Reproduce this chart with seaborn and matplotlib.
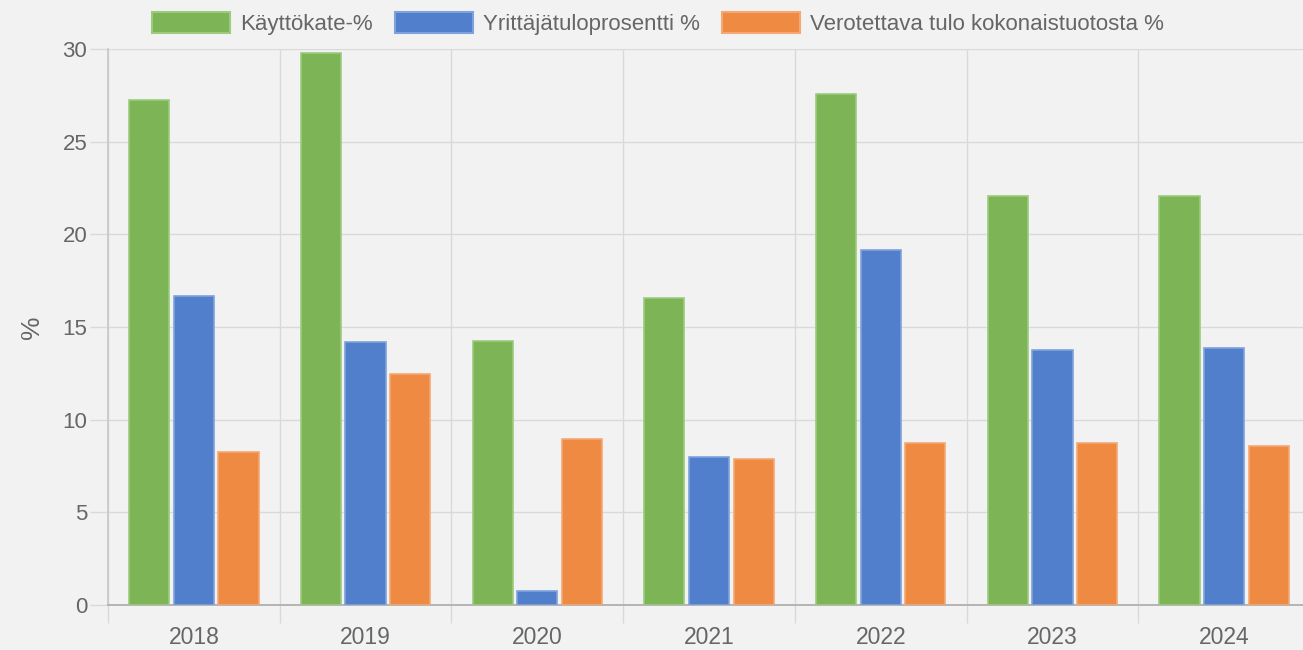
import numpy as np
import pandas as pd
import matplotlib
matplotlib.use("Agg")
import matplotlib.pyplot as plt
from matplotlib.patches import Patch
from matplotlib.ticker import FixedLocator, NullFormatter
import seaborn as sns

# ── Data ─────────────────────────────────────────────────────────────────────
years = ["2018", "2019", "2020", "2021", "2022", "2023", "2024"]
series_names = ["Käyttökate-%", "Yrittäjätuloprosentti %", "Verotettava tulo kokonaistuotosta %"]
kayttokate = [27.25, 29.8, 14.25, 16.57, 27.58, 22.07, 22.07]
yrittajatulo = [16.68, 14.19, 0.76, 7.99, 19.16, 13.76, 13.87]
verotettava = [8.26, 12.47, 8.96, 7.88, 8.74, 8.74, 8.58]

colors = ["#7cb456", "#527fcb", "#ef8a43"]
edges = ["#9ccb7e", "#7ea2dd", "#f5a874"]

df = pd.DataFrame({
    "Vuosi": years * 3,
    "Sarja": [series_names[0]] * 7 + [series_names[1]] * 7 + [series_names[2]] * 7,
    "Arvo": kayttokate + yrittajatulo + verotettava,
})

# ── Style ────────────────────────────────────────────────────────────────────
sns.set_theme(style="white")
plt.rcParams["font.family"] = ["Liberation Sans", "DejaVu Sans"]
txt = "#666666"
grid_c = "#d9d9d9"

fig = plt.figure(figsize=(13.03, 6.5), dpi=100, facecolor="#f2f2f2")
ax = fig.add_axes([108 / 1303, 1 - 605 / 650, 1 - 108 / 1303, (605 - 49) / 650])
ax.set_facecolor("#f2f2f2")

sns.barplot(data=df, x="Vuosi", y="Arvo", hue="Sarja", hue_order=series_names,
            palette=colors, width=0.78, gap=0.1, ax=ax, legend=False,
            linewidth=1.2, saturation=1)
for i, cont in enumerate(ax.containers):
    for bar in cont:
        bar.set_edgecolor(edges[i])
        bar.set_zorder(3)

ax.set_ylim(0, 30)
ax.set_xlim(-0.5, 6.5 - 7 / 171.5)
ax.set_yticks(range(0, 31, 5))
ax.yaxis.grid(True, color=grid_c, linewidth=1)
ax.xaxis.set_minor_locator(FixedLocator(np.arange(-0.5, 6.6, 1)))
ax.xaxis.set_minor_formatter(NullFormatter())
ax.grid(True, which="minor", axis="x", color=grid_c, linewidth=1)
ax.set_axisbelow(True)

ax.tick_params(axis="x", which="major", length=0, pad=15, labelsize=16.5, labelcolor=txt)
ax.tick_params(axis="x", which="minor", length=13, width=1, color=grid_c, bottom=True)
ax.tick_params(axis="y", length=13, width=1, color=grid_c, left=True, pad=2,
               labelsize=16, labelcolor=txt)

for s in ["top", "right"]:
    ax.spines[s].set_visible(False)
ax.spines["left"].set_color("#c8c8c8")
ax.spines["bottom"].set_color("#b0b0b0")
ax.spines["bottom"].set_linewidth(1.3)

ax.set_xlabel("")
ax.set_ylabel("%", fontsize=19, color=txt, labelpad=13)

handles = [Patch(facecolor=c, edgecolor=e, linewidth=1.5) for c, e in zip(colors, edges)]
fig.legend(handles, series_names, loc="upper center", bbox_to_anchor=(0.505, 1.012),
           ncol=3, frameon=False, fontsize=16, labelcolor=txt, handlelength=3.5,
           handleheight=1.05, handletextpad=0.45, columnspacing=1.0)

fig.savefig("out.png", dpi=100, facecolor=fig.get_facecolor())
